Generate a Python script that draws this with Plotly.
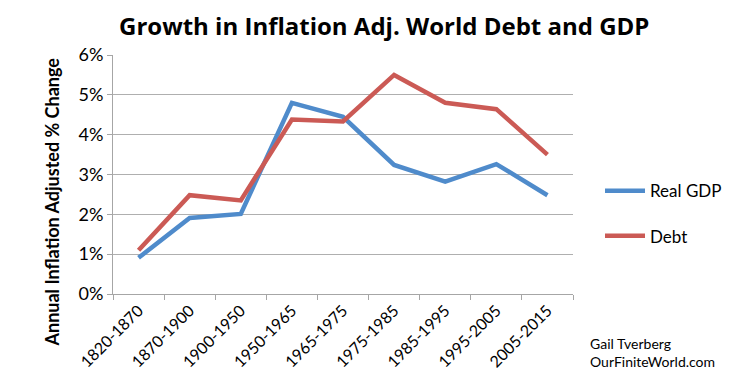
import plotly.graph_objects as go

periods = ["1820-1870", "1870-1900", "1900-1950", "1950-1965", "1965-1975",
           "1975-1985", "1985-1995", "1995-2005", "2005-2015"]
real_gdp = [0.91, 1.91, 2.01, 4.80, 4.45, 3.24, 2.82, 3.26, 2.48]
debt = [1.10, 2.48, 2.35, 4.38, 4.33, 5.50, 4.80, 4.64, 3.50]
y_ticks = [0, 1, 2, 3, 4, 5, 6]
y_tick_text = ["0%", "1%", "2%", "3%", "4%", "5%", "6%"]

W, H = 750, 375
L, R, T, B = 105, 185, 47, 72

fig = go.Figure()
fig.add_trace(go.Scatter(x=periods, y=real_gdp, name="Real GDP", mode="lines",
                         legendgroup="gdp",
                         line=dict(color="#4F8BCB", width=4.5)))
fig.add_trace(go.Scatter(x=periods, y=debt, name="Debt", mode="lines",
                         legendgroup="debt",
                         line=dict(color="#CB5A55", width=4.5)))

font_main = "Lato, Open Sans, sans-serif"
plot_h = H - T - B
plot_w = W - L - R

fig.update_layout(
    width=W, height=H,
    margin=dict(l=L, r=R, t=T, b=B, pad=0),
    paper_bgcolor="white", plot_bgcolor="white",
    font=dict(family=font_main, size=15, color="#000000"),
    showlegend=True,
    legend=dict(x=(592 - L) / plot_w, xanchor="left", y=(H - B - 217) / plot_h,
                yanchor="middle", font=dict(size=17, family=font_main),
                bgcolor="rgba(0,0,0,0)", tracegroupgap=20, itemwidth=40),
    xaxis=dict(type="category", showline=True, linecolor="#A6A6A6", linewidth=1,
               ticks="outside", ticklen=5, tickcolor="#A6A6A6", tickson="boundaries",
               tickangle=-45, showgrid=False, zeroline=False,
               tickfont=dict(size=16, family=font_main), range=[-0.5, 8.5]),
    yaxis=dict(range=[0, 6], tickvals=y_ticks, ticktext=y_tick_text,
               showline=True, linecolor="#A6A6A6", linewidth=1,
               ticks="outside", ticklen=5, tickcolor="#A6A6A6",
               showgrid=True, gridcolor="#AFAFAF", gridwidth=1, zeroline=False,
               tickfont=dict(size=18, family=font_main)),
)

fig.add_annotation(text="<b>Growth in Inflation Adj. World Debt and GDP</b>",
                   xref="paper", yref="paper",
                   x=(376 - L) / plot_w, y=(H - B - 15) / plot_h,
                   xanchor="center", yanchor="middle", showarrow=False,
                   font=dict(size=24, family="Open Sans, sans-serif", color="#000"))
fig.add_annotation(text="<b>Annual Inflation Adjusted % Change</b>",
                   xref="paper", yref="paper", textangle=-90,
                   x=(44 - L) / plot_w, y=(H - B - 205) / plot_h,
                   xanchor="center", yanchor="middle", showarrow=False,
                   font=dict(size=18, family=font_main, color="#000"))
fig.add_annotation(text="Gail Tverberg<br>OurFiniteWorld.com",
                   xref="paper", yref="paper", align="left",
                   x=(580 - L) / plot_w, y=(H - B - 345) / plot_h,
                   xanchor="left", yanchor="top", showarrow=False,
                   font=dict(size=14, family=font_main, color="#000"))

fig.write_html("out.html")
